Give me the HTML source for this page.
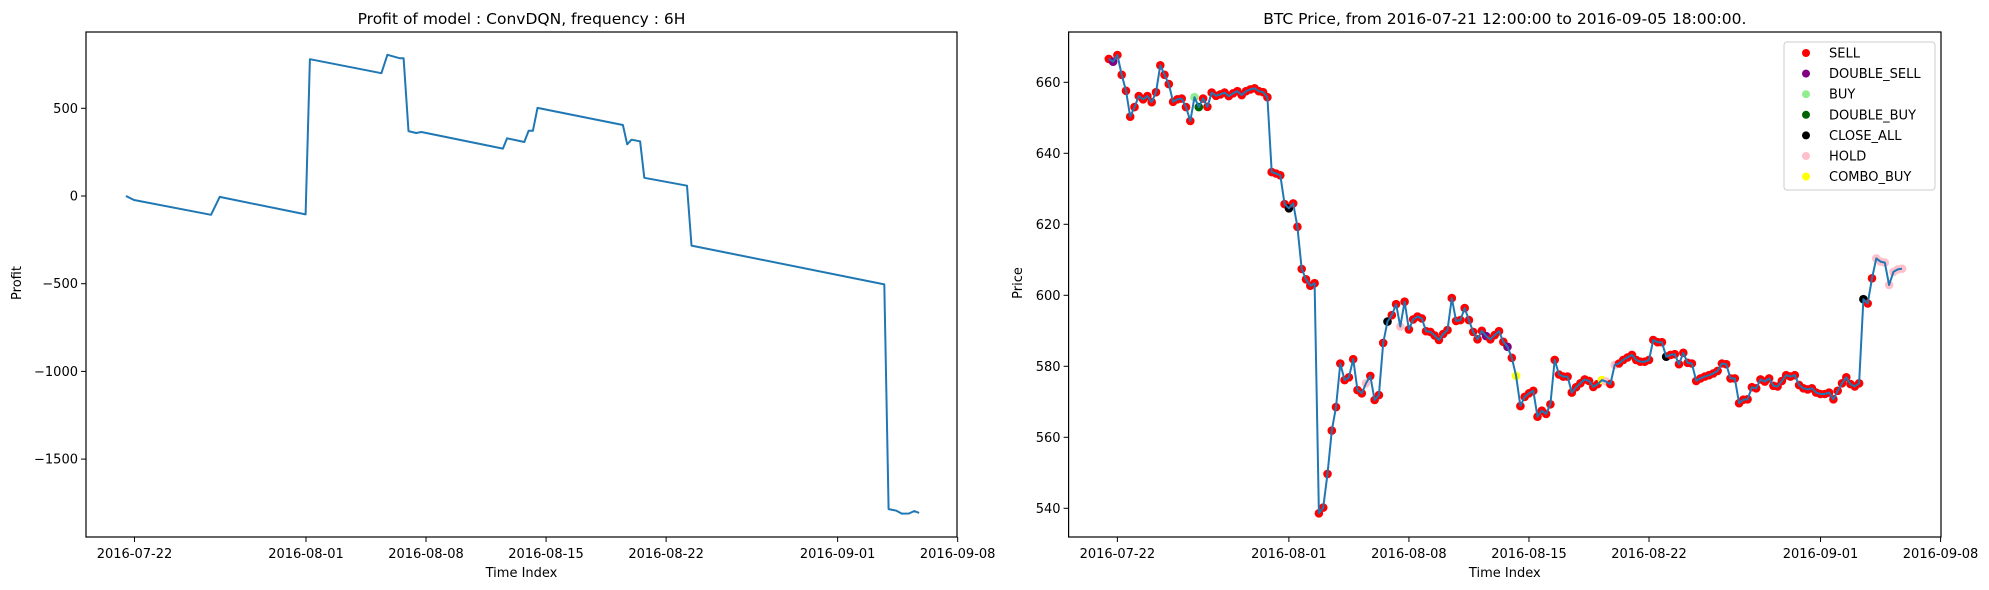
<!DOCTYPE html>
<html><head><meta charset="utf-8"><style>
body{margin:0;background:#fff;}
svg{display:block;font-family:"DejaVu Sans","Liberation Sans",sans-serif;}
</style></head><body>
<svg id="fig" width="1989" height="590" viewBox="0 0 1989 590" xmlns="http://www.w3.org/2000/svg"></svg>
<script>
// ---- data ----
const dateTickLabels = ["2016-07-22","2016-08-01","2016-08-08","2016-08-15","2016-08-22","2016-09-01","2016-09-08"];
const dateTickDays = [0.5,10.5,17.5,24.5,31.5,41.5,48.5]; // days since 2016-07-21 12:00
const profitTicks = [500,0,-500,-1000,-1500];
const priceTicks = [540,560,580,600,620,640,660];
const profitDays = [0,0.47,4.96,5.47,10.48,10.73,14.9,15.25,15.98,16.19,16.48,16.92,17.23,21.98,22.23,23.23,23.48,23.73,24.0,28.98,29.23,29.48,29.98,30.23,32.72,32.98,44.22,44.47,44.93,45.24,45.66,45.97,46.25];
const profitValues = [0,-23,-107,-5,-105,780,700,805,785,785,370,359,365,270,329,308,372,372,502,405,295,321,312,104,59,-283,-504,-1785,-1794,-1811,-1810,-1796,-1807];
const priceValues = [666.6,665.8,667.7,662.1,657.6,650.3,653,656.1,655.2,656.1,654.4,657.2,664.8,662.1,659.5,654.5,655.2,655.4,653,649.1,
655.8,653,655.4,653.1,657.1,656.2,656.6,657.1,656.1,656.9,657.5,656.4,657.5,658,658.3,657.5,657.2,655.8,634.7,634.3,
633.8,625.7,624.5,625.9,619.3,607.4,604.5,602.7,603.4,538.6,540.2,549.7,561.9,568.5,580.8,576.1,576.9,582,573.3,572.4,
575.2,577.3,570.5,571.9,586.6,592.6,594.4,597.5,591.2,598.2,590.4,593.2,594,593.5,589.9,589.7,588.7,587.4,589.1,590.2,
599.2,592.8,593,596.4,593,589.7,587.6,590,588.5,587.6,588.8,589.9,586.9,585.5,582.4,577.3,568.8,571.4,572.4,573.1,
565.8,567.5,566.6,569.3,581.8,577.7,577.1,577.1,572.6,574.1,575.2,576.3,575.9,574.2,575,576.1,575.7,575,580.4,580.8,
581.8,582.5,583.2,581.8,581.3,581.3,581.8,587.4,586.8,586.8,582.7,583.2,583.4,580.6,583.8,581,580.8,575.9,576.6,577.1,
577.5,578,578.7,580.8,580.6,576.6,576.6,569.6,570.6,570.7,574.1,573.8,576.3,575.7,576.6,574.5,574.3,575.9,577.5,577.1,
577.5,574.7,573.8,573.5,573.8,572.6,572.2,572.2,572.6,570.7,573.1,575.2,576.9,575,574.3,575.2,598.9,597.7,604.8,610.4,
609.5,609.2,602.9,606.6,607.3,607.5];
const actionIdx = [1,20,21,42,60,65,68,88,93,95,115,116,118,130,176,179,180,181,182,183,184,185];
const actionType = ["DOUBLE_SELL","BUY","DOUBLE_BUY","CLOSE_ALL","HOLD","CLOSE_ALL","HOLD","DOUBLE_SELL","DOUBLE_SELL","COMBO_BUY","COMBO_BUY","HOLD","HOLD","CLOSE_ALL","CLOSE_ALL","HOLD","HOLD","HOLD","HOLD","HOLD","HOLD","HOLD"];
const legendLabels = ["SELL","DOUBLE_SELL","BUY","DOUBLE_BUY","CLOSE_ALL","HOLD","COMBO_BUY"];
const legendColors = ["#ff0000","#800080","#90ee90","#006400","#000000","#ffc0cb","#ffff00"];

// ---- helpers ----
const NS="http://www.w3.org/2000/svg";
const svg=document.getElementById('fig');
function mk(tag,attrs,parent){const e=document.createElementNS(NS,tag);for(const k in attrs)e.setAttribute(k,attrs[k]);(parent||svg).appendChild(e);return e;}
function txt(s,attrs,parent){const e=mk('text',attrs,parent);e.textContent=s;return e;}

const TOP=32,BOT=537;
const L={x0:86,x1:957,dx0:125.9};
const R={x0:1068.6,x1:1941,dx0:1108.8};
const PXD=17.15;
const xL=d=>L.dx0+d*PXD, xR=d=>R.dx0+d*PXD;
const yL=v=>196-v*0.1754;
const yR=v=>82.3+(660-v)*3.55;

function axes(A,xf,name){
  const g=mk('g',{});
  
  
  dateTickDays.forEach((d,i)=>{
    const x=xf(d);
    const t=mk('line',{x1:x,x2:x,y1:BOT,y2:BOT+5,stroke:'#000','stroke-width':1},g);
    
    
    const l=txt(dateTickLabels[i],{x:x,y:BOT+21,'font-size':13,'text-anchor':'middle',fill:'#000'},g);
    
    
  });
  return g;
}

// ---- left chart ----
const gl=axes(L,xL,'profit');
profitTicks.forEach(v=>{
  const y=yL(v);
  mk('line',{x1:L.x0-5,x2:L.x0,y1:y,y2:y,stroke:'#000'},gl);
  const l=txt(v<0?'\u2212'+(-v):String(v),{x:L.x0-8,y:y+4.5,'font-size':13,'text-anchor':'end'},gl);
  
  
});
const pl=mk('polyline',{points:profitDays.map((d,i)=>xL(d).toFixed(1)+','+yL(profitValues[i]).toFixed(1)).join(' '),fill:'none',stroke:'#1f77b4','stroke-width':2,'stroke-linejoin':'round'},gl);


const fl=mk('rect',{x:L.x0,y:TOP,width:L.x1-L.x0,height:BOT-TOP,fill:'none',stroke:'#000','stroke-width':1.2},gl);


let e=txt('Profit of model : ConvDQN, frequency : 6H',{x:(L.x0+L.x1)/2,y:24,'font-size':15.5,'text-anchor':'middle'});


e=txt('Time Index',{x:(L.x0+L.x1)/2,y:577,'font-size':13,'text-anchor':'middle'});


e=txt('Profit',{x:0,y:0,'font-size':13,'text-anchor':'middle',transform:'translate(21,283) rotate(-90)'});



// ---- right chart ----
const gr=axes(R,xR,'price');
priceTicks.forEach(v=>{
  const y=yR(v);
  mk('line',{x1:R.x0-5,x2:R.x0,y1:y,y2:y,stroke:'#000'},gr);
  const l=txt(String(v),{x:R.x0-8,y:y+4.5,'font-size':13,'text-anchor':'end'},gr);
  
  
});
const colorOf={};legendLabels.forEach((l,i)=>colorOf[l]=legendColors[i]);
const mcol=priceValues.map(()=>colorOf.SELL);
actionIdx.forEach((ix,k)=>{if(ix<mcol.length)mcol[ix]=colorOf[actionType[k]];});
priceValues.forEach((v,i)=>{
  const c=mk('circle',{cx:xR(i*0.25).toFixed(1),cy:yR(v).toFixed(1),r:4.3,fill:mcol[i]},gr);
  
  
});
const prl=mk('polyline',{points:priceValues.map((v,i)=>xR(i*0.25).toFixed(1)+','+yR(v).toFixed(1)).join(' '),fill:'none',stroke:'#1f77b4','stroke-width':2,'stroke-linejoin':'round'},gr);


const fr=mk('rect',{x:R.x0,y:TOP,width:R.x1-R.x0,height:BOT-TOP,fill:'none',stroke:'#000','stroke-width':1.2},gr);


e=txt('BTC Price, from 2016-07-21 12:00:00 to 2016-09-05 18:00:00.',{x:(R.x0+R.x1)/2,y:24,'font-size':15.5,'text-anchor':'middle'});


e=txt('Time Index',{x:(R.x0+R.x1)/2,y:577,'font-size':13,'text-anchor':'middle'});


e=txt('Price',{x:0,y:0,'font-size':13,'text-anchor':'middle',transform:'translate(1022,283) rotate(-90)'});



// legend
const lg=mk('g',{});


mk('rect',{x:1784,y:42,width:151,height:148,rx:3,fill:'#fff','fill-opacity':0.8,stroke:'#ccc'},lg);
legendLabels.forEach((lab,i)=>{
  const y=53+i*20.6;
  const g=mk('g',{},lg);
  
  
  mk('circle',{cx:1806,cy:y,r:4,fill:legendColors[i]},g);
  txt(lab,{x:1829,y:y+4.5,'font-size':13},g);
});
</script>
</body></html>
